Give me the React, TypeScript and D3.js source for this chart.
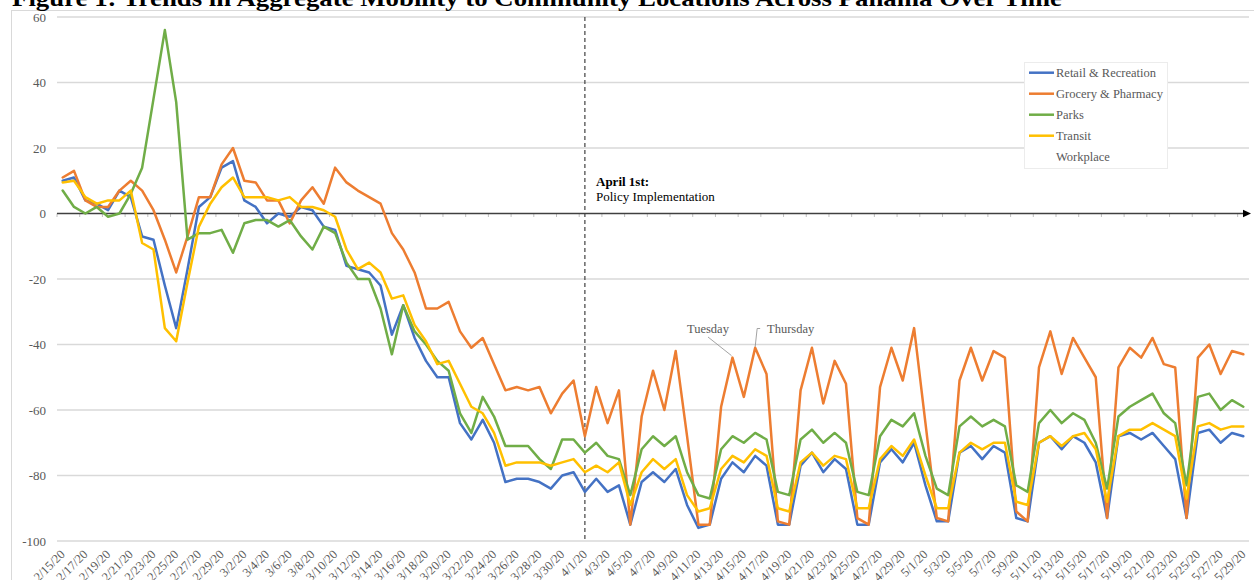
import React from "react";
import * as d3 from "d3";

const dates: Date[] = d3.timeDay.range(new Date(2020, 1, 15), new Date(2020, 4, 30));
const fmt = d3.timeFormat("%-m/%-d/%y");
const categories: string[] = dates.map((d) => fmt(d));

const retail: number[] = [
  10, 11, 4, 3, 1, 7, 5, -7, -8, -22, -35, -17, 2, 5, 14, 16, 4, 2, -3, 0, -1, 2, 1, -4, -5,
  -16, -17, -18, -22, -37, -28, -38, -45, -50, -50, -64, -69, -63, -70, -82, -81, -81, -82, -84,
  -80, -79, -85, -81, -85, -83, -95, -82, -79, -82, -78, -89, -96, -95, -81, -76, -79, -74, -77,
  -95, -95, -77, -73, -79, -75, -78, -95, -95, -76, -72, -76, -70, -83, -94, -94, -73, -71, -75,
  -71, -73, -93, -94, -70, -68, -72, -68, -70, -76, -93, -68, -67, -69, -67, -71, -75, -93, -67,
  -66, -70, -67, -68,
];
const grocery: number[] = [
  11, 13, 4, 2, 2, 7, 10, 7, 1, -8, -18, -7, 5, 5, 15, 20, 10, 9.5, 4, 4, -3, 4, 8, 3, 14,
  9.5, 7, 5, 3, -6, -11, -18, -29, -29, -27, -36, -41, -38, -46, -54, -53, -54, -53, -61, -55,
  -51, -68, -53, -64, -54, -95, -62, -48, -60, -42, -68, -95, -95, -59, -44, -56, -41, -49, -94,
  -95, -54, -41, -58, -45, -52, -93, -95, -53, -41, -51, -35, -64, -93, -94, -51, -41, -51, -42,
  -44, -91, -94, -47, -36, -49, -38, -44, -50, -93, -47, -41, -44, -38, -46, -47, -93, -44, -40,
  -49, -42, -43,
];
const parks: number[] = [
  7, 2, 0, 2, -1, 0, 6, 14, 35, 56, 34, -8, -6, -6, -5, -12, -3, -2, -2, -4, -2, -7, -11, -4, -6,
  -15, -20, -20, -29, -43, -28, -36, -40, -45, -48, -61, -67, -56, -62, -71, -71, -71, -75, -78,
  -69, -69, -73, -70, -74, -75, -86, -72, -68, -71, -68, -79, -86, -87, -72, -68, -70, -67, -69,
  -85, -86, -69, -66, -70, -67, -70, -85, -86, -68, -63, -65, -61, -74, -84, -86, -65, -62, -65,
  -63, -65, -83, -85, -64, -60, -64, -61, -63, -70, -84, -62, -59, -57, -55, -61, -64, -83, -56,
  -55, -60, -57, -59,
];
const transit: number[] = [
  9.5, 10, 5, 3, 4, 4, 7, -9, -11, -35, -39, -21, -4, 3, 8, 11, 5, 5, 5, 4, 5, 2, 2, 1, -1,
  -11, -17, -15, -18, -26, -25, -34, -39, -46, -45, -52, -59, -61, -67, -77, -76, -76, -76, -77,
  -76, -75, -79, -77, -79, -76, -89, -79, -75, -78, -75, -86, -91, -90, -78, -74, -76, -72, -74,
  -90, -91, -76, -73, -77, -74, -75, -90, -90, -75, -71, -74, -69, -80, -90, -90, -73, -70, -72,
  -70, -70, -88, -89, -70, -68, -71, -68, -67, -72, -88, -68, -66, -66, -64, -66, -68, -87, -65,
  -64, -66, -65, -65,
];

const seriesNames: string[] = ["Retail & Recreation", "Grocery & Pharmacy", "Parks", "Transit", "Workplace"];
const seriesColors: string[] = ["#4472C4", "#ED7D31", "#70AD47", "#FFC000", "none"];
const seriesData: (number[] | null)[] = [retail, grocery, parks, transit, null];

const yTicks: number[] = [60, 40, 20, 0, -20, -40, -60, -80, -100];
const policyDate = "4/1/20";

const W = 1254;
const H = 580;
const FONT = "'Liberation Serif', 'Times New Roman', 'DejaVu Serif', serif";

export default function App() {
  const x0 = 57;
  const x1 = 1249;
  const x = d3.scalePoint<string>().domain(categories).range([x0, x1]).padding(0.5);
  const step = x.step();
  const y = d3.scaleLinear().domain([-100, 60]).range([541, 17]);
  const line = d3
    .line<number>()
    .x((_, i) => x(categories[i]) as number)
    .y((d) => y(d));

  const zeroY = y(0);
  const policyX = x(policyDate) as number;
  const tueIdx = categories.indexOf("4/14/20");
  const thuIdx = categories.indexOf("4/16/20");
  const tueX = x(categories[tueIdx]) as number;
  const tueY = y(grocery[tueIdx]);
  const thuX = x(categories[thuIdx]) as number;
  const thuY = y(grocery[thuIdx]);

  const minorTicks: number[] = [];
  for (let k = 0; k <= categories.length; k += 2) minorTicks.push(x0 + k * step);

  return (
    <div style={{ position: "absolute", left: 0, top: 0, width: W, height: H, background: "#fff" }}>
      <svg width={W} height={H} fontFamily={FONT} style={{ display: "block", fontFamily: FONT }}>
        <rect x={0} y={0} width={W} height={H} fill="#fff" />
        <rect x={11.5} y={10.5} width={W + 10} height={H + 10} fill="#fff" stroke="#d9d9d9" strokeWidth={1} />
        <text x={12} y={6} fontSize={24} fontWeight="bold" fill="#000" textLength={1050} lengthAdjust="spacingAndGlyphs">
          Figure 1: Trends in Aggregate Mobility to Community Locations Across Panama Over Time
        </text>

        {yTicks
          .filter((t) => t !== 0)
          .map((t) => (
            <line key={t} x1={x0} x2={x1} y1={y(t)} y2={y(t)} stroke="#d9d9d9" strokeWidth={1.3} />
          ))}
        {yTicks.map((t) => (
          <text key={"yl" + t} x={46} y={y(t)} dy="0.35em" textAnchor="end" fontSize={13} fill="#595959">
            {t}
          </text>
        ))}

        {minorTicks.map((tx, i) => (
          <line key={"mt" + i} x1={tx} x2={tx} y1={zeroY} y2={zeroY + 3.5} stroke="#bfbfbf" strokeWidth={1} />
        ))}
        <line x1={x0} x2={1244} y1={zeroY} y2={zeroY} stroke="#404040" strokeWidth={1.3} />
        <path d={`M1243,${zeroY - 3.8} L1251,${zeroY} L1243,${zeroY + 3.8} Z`} fill="#000" />

        {categories.map((c, i) =>
          i % 2 === 0 ? (
            <text
              key={"xl" + c}
              transform={`translate(${(x(c) as number) + 3},555) rotate(-45)`}
              textAnchor="end"
              fontSize={12.5}
              fill="#595959"
            >
              {c}
            </text>
          ) : null
        )}

        <line x1={policyX} x2={policyX} y1={y(60)} y2={y(-100)} stroke="#404040" strokeWidth={1.2} strokeDasharray="4 3" />
        <text x={596} y={186} fontSize={13} fontWeight="bold" fill="#000">
          April 1st:
        </text>
        <text x={596} y={201} fontSize={13} fill="#000">
          Policy Implementation
        </text>

        {seriesData.map((d, i) =>
          d ? (
            <path
              key={seriesNames[i]}
              d={line(d) || ""}
              fill="none"
              stroke={seriesColors[i]}
              strokeWidth={2.5}
              strokeLinejoin="round"
              strokeLinecap="round"
            />
          ) : null
        )}

        <line x1={708} y1={337} x2={tueX - 1} y2={tueY - 2} stroke="#8c8c8c" strokeWidth={0.8} />
        <text x={687} y={333} fontSize={12.5} fill="#595959">
          Tuesday
        </text>
        <polyline
          points={`${thuX + 5},328.5 ${thuX + 2},328.5 ${thuX},${thuY - 1}`}
          fill="none"
          stroke="#8c8c8c"
          strokeWidth={0.8}
        />
        <text x={767} y={333} fontSize={12.5} fill="#595959">
          Thursday
        </text>

        <rect x={1024.5} y={62.5} width={143} height={106} fill="#fff" stroke="#ececec" strokeWidth={1} />
        {seriesNames.map((n, i) => (
          <g key={"lg" + n}>
            {seriesColors[i] !== "none" && (
              <line x1={1029} x2={1054} y1={72.7 + i * 21} y2={72.7 + i * 21} stroke={seriesColors[i]} strokeWidth={2.5} />
            )}
            <text x={1056} y={72.7 + i * 21} dy="0.35em" fontSize={12.5} fill="#595959">
              {n}
            </text>
          </g>
        ))}
      </svg>
    </div>
  );
}
